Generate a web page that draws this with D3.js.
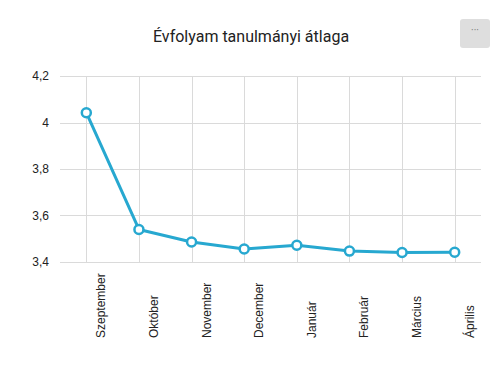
<!DOCTYPE html>
<html>
<head>
<meta charset="utf-8">
<script src="https://cdn.jsdelivr.net/npm/d3@7"></script>
<style>
  body { margin: 0; background: #fff; }
  svg { display: block; font-family: Roboto, "Noto Sans", sans-serif; }
  .axis text { font-family: "Liberation Sans", Arial, sans-serif; }
</style>
</head>
<body>
<svg id="chart" width="503" height="372"></svg>
<script>
var months = ["Szeptember", "Október", "November", "December", "Január", "Február", "Március", "Április"];
var averages = [4.042, 3.54, 3.486, 3.456, 3.472, 3.447, 3.441, 3.442];
var yTicks = [3.4, 3.6, 3.8, 4, 4.2];

var width = 503, height = 372;
var margin = { top: 76, right: 22, bottom: 110, left: 60 };
var colour = "#27a8d0";

var svg = d3.select("#chart");

var x = d3.scalePoint()
	.domain(months)
	.range([margin.left, width - margin.right])
	.padding(0.5);

var y = d3.scaleLinear()
	.domain([3.4, 4.2])
	.range([height - margin.bottom, margin.top]);

var fmt = d => String(d).replace(".", ",");

// title
svg.append("text")
	.attr("x", 251)
	.attr("y", 42)
	.attr("text-anchor", "middle")
	.attr("font-size", "16px")
	.attr("fill", "#222")
	.text("Évfolyam tanulmányi átlaga");

// menu button
var btn = svg.append("g").attr("transform", "translate(460,19)");
btn.append("rect")
	.attr("width", 30).attr("height", 29)
	.attr("rx", 3)
	.attr("fill", "#dedede");
btn.append("text")
	.attr("x", 15).attr("y", 15)
	.attr("text-anchor", "middle")
	.attr("font-size", "10px")
	.attr("fill", "#777")
	.text("···");

// horizontal grid + y labels
var yAxis = svg.append("g").attr("class", "axis");
yAxis.selectAll("line")
	.data(yTicks)
	.join("line")
	.attr("x1", margin.left)
	.attr("x2", width - margin.right)
	.attr("y1", d => Math.round(y(d)) + 0.5)
	.attr("y2", d => Math.round(y(d)) + 0.5)
	.attr("stroke", "#dadada");
yAxis.selectAll("text")
	.data(yTicks)
	.join("text")
	.attr("x", 49)
	.attr("y", d => y(d))
	.attr("dy", "0.35em")
	.attr("text-anchor", "end")
	.attr("font-size", "12px")
	.attr("fill", "#222")
	.text(fmt);

// vertical grid
svg.append("g")
	.selectAll("line")
	.data(months)
	.join("line")
	.attr("x1", d => Math.round(x(d)) + 0.5)
	.attr("x2", d => Math.round(x(d)) + 0.5)
	.attr("y1", y(4.2))
	.attr("y2", y(3.4))
	.attr("stroke", "#dadada");

// x labels, rotated
svg.append("g")
	.attr("class", "axis")
	.selectAll("text")
	.data(months)
	.join("text")
	.attr("transform", d => `translate(${x(d) + 19},338) rotate(-90)`)
	.attr("text-anchor", "start")
	.attr("font-size", "12px")
	.attr("fill", "#222")
	.text(d => d);

// line
var line = d3.line()
	.x((d, i) => x(months[i]))
	.y(d => y(d));

svg.append("path")
	.datum(averages)
	.attr("fill", "none")
	.attr("stroke", colour)
	.attr("stroke-width", 3)
	.attr("stroke-linejoin", "round")
	.attr("d", line);

svg.append("g")
	.selectAll("circle")
	.data(averages)
	.join("circle")
	.attr("cx", (d, i) => x(months[i]))
	.attr("cy", d => y(d))
	.attr("r", 4.5)
	.attr("fill", "#fff")
	.attr("stroke", colour)
	.attr("stroke-width", 2.5);
</script>
</body>
</html>
